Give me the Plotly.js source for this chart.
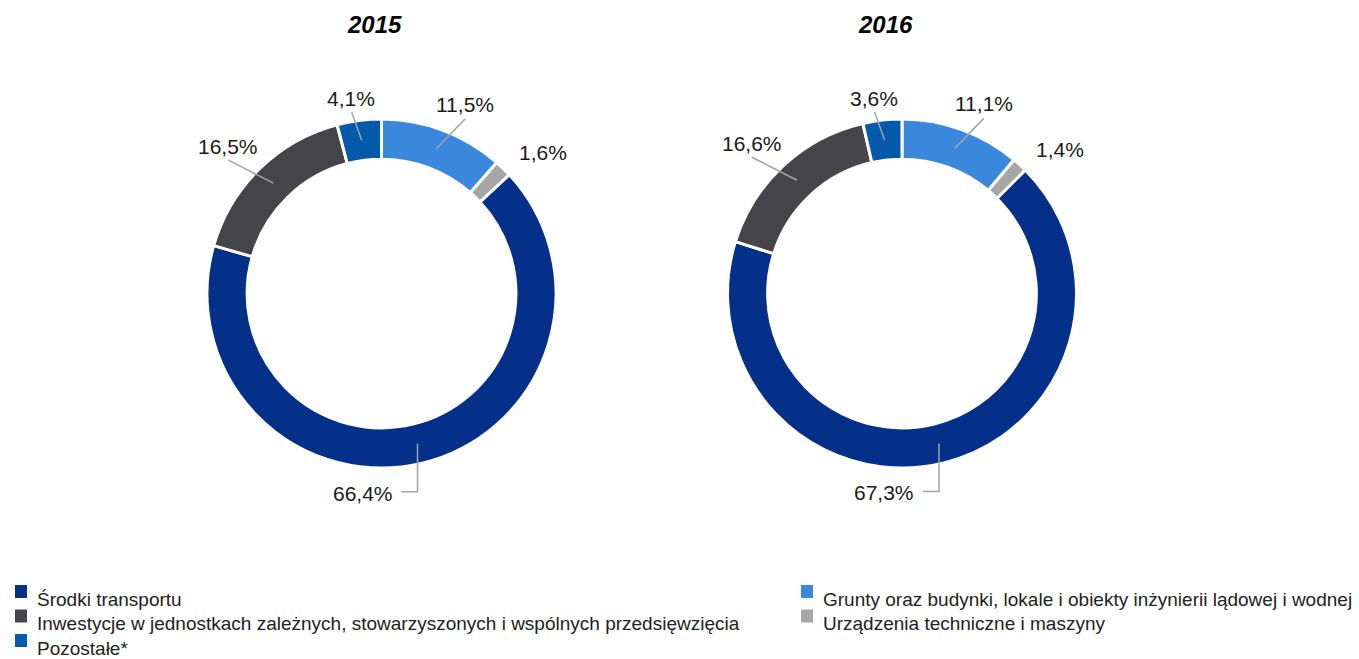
<!DOCTYPE html>
<html>
<head>
<meta charset="utf-8">
<script src="https://cdn.plot.ly/plotly-3.0.1.min.js"></script>
<style>html,body{margin:0;padding:0;background:#fff;}#chart{width:1359px;height:659px;}</style>
</head>
<body>
<div id="chart"></div>
<script>
// ---- data ----
const years = ['2015', '2016'];
const categories = [
  'Grunty oraz budynki, lokale i obiekty inżynierii lądowej i wodnej',
  'Urządzenia techniczne i maszyny',
  'Środki transportu',
  'Inwestycje w jednostkach zależnych, stowarzyszonych i wspólnych przedsięwzięcia',
  'Pozostałe*'
];
const values2015 = [11.5, 1.6, 66.4, 16.5, 4.1];
const values2016 = [11.1, 1.4, 67.3, 16.6, 3.6];
const colors = ['#3A88DE', '#A6A6A6', '#05308A', '#454449', '#055AAB'];

// ---- layout geometry (px) ----
const W = 1359, H = 659;
const centersX = [381.5, 902];
const centerY = 293.5;
const R = 174.5;
const hole = 0.77;
const titleX = [374, 885];
const px = x => x / W;
const py = y => 1 - y / H;

const seriesValues = [values2015, values2016];
const traces = [];
const shapes = [];
const annotations = [];
const labelFont = {family: 'Liberation Sans, Arial, sans-serif', size: 21, color: '#1a1a1a'};
const leaderColor = '#A3A3A3';

// leader/label styles per slice (pixel offsets relative to mid-ring point)
const leader = [
  {line: [[29, -30]], label: [29, -45], anchor: 'center'},
  {line: null, label: [54, -30], anchor: 'center'},
  {line: [[0, 48], [-16, 48]], label: [-23, 49.5], anchor: 'right'},
  {line: [[-45, -23]], label: [-45, -37], anchor: 'center'},
  {line: [[-10, -28]], label: [-11, -42], anchor: 'center'}
];

seriesValues.forEach((vals, k) => {
  const cx = centersX[k];
  traces.push({
    type: 'pie',
    values: vals,
    labels: categories,
    sort: false,
    direction: 'clockwise',
    rotation: 0,
    hole: hole,
    textinfo: 'none',
    hoverinfo: 'label+percent',
    showlegend: false,
    marker: {colors: colors, line: {color: '#ffffff', width: 3}},
    domain: {x: [px(cx - R), px(cx + R)], y: [py(centerY + R), py(centerY - R)]}
  });
  annotations.push({
    text: '<b><i>' + years[k] + '</i></b>', x: px(titleX[k]), y: py(25),
    xref: 'paper', yref: 'paper', xanchor: 'center', yanchor: 'middle', showarrow: false,
    font: {family: 'Liberation Sans, Arial, sans-serif', size: 24, color: '#000'}
  });
  const total = vals.reduce((a, b) => a + b, 0);
  let cum = 0;
  const rMid = R * (1 + hole) / 2;
  vals.forEach((v, i) => {
    const mid = (cum + v / 2) / total * 2 * Math.PI;
    cum += v;
    const ax = cx + rMid * Math.sin(mid);
    const ay = centerY - rMid * Math.cos(mid);
    const st = leader[i];
    if (st.line) {
      let path = 'M ' + px(ax) + ',' + py(ay);
      st.line.forEach(p => { path += ' L ' + px(ax + p[0]) + ',' + py(ay + p[1]); });
      shapes.push({type: 'path', xref: 'paper', yref: 'paper', path: path,
        line: {color: leaderColor, width: 1.5}});
    }
    const txt = v.toFixed(1).replace('.', ',') + '%';
    annotations.push({
      text: txt, x: px(ax + st.label[0]), y: py(ay + st.label[1]),
      xref: 'paper', yref: 'paper', xanchor: st.anchor, yanchor: 'middle',
      showarrow: false, font: labelFont
    });
  });
});

// ---- manual two-column legend ----
const legendCols = [
  {idx: [2, 3, 4], sqX: 15, txtX: 35},
  {idx: [0, 1], sqX: 801, txtX: 821}
];
const legendFont = {family: 'Liberation Sans, Arial, sans-serif', size: 19, color: '#222'};
legendCols.forEach(col => {
  col.idx.forEach((ci, r) => {
    const base = 585 + r * 24.5;
    shapes.push({type: 'rect', xref: 'paper', yref: 'paper',
      x0: px(col.sqX), x1: px(col.sqX + 12), y0: py(base + 13), y1: py(base),
      fillcolor: colors[ci], line: {width: 0}});
    annotations.push({
      text: categories[ci], x: px(col.txtX), y: py(base + 14),
      xref: 'paper', yref: 'paper', xanchor: 'left', yanchor: 'middle',
      showarrow: false, font: legendFont
    });
  });
});

const layout = {
  width: W, height: H,
  margin: {l: 0, r: 0, t: 0, b: 0},
  paper_bgcolor: '#ffffff',
  showlegend: false,
  shapes: shapes,
  annotations: annotations
};
Plotly.newPlot('chart', traces, layout, {displayModeBar: false, staticPlot: true});
</script>
</body>
</html>
